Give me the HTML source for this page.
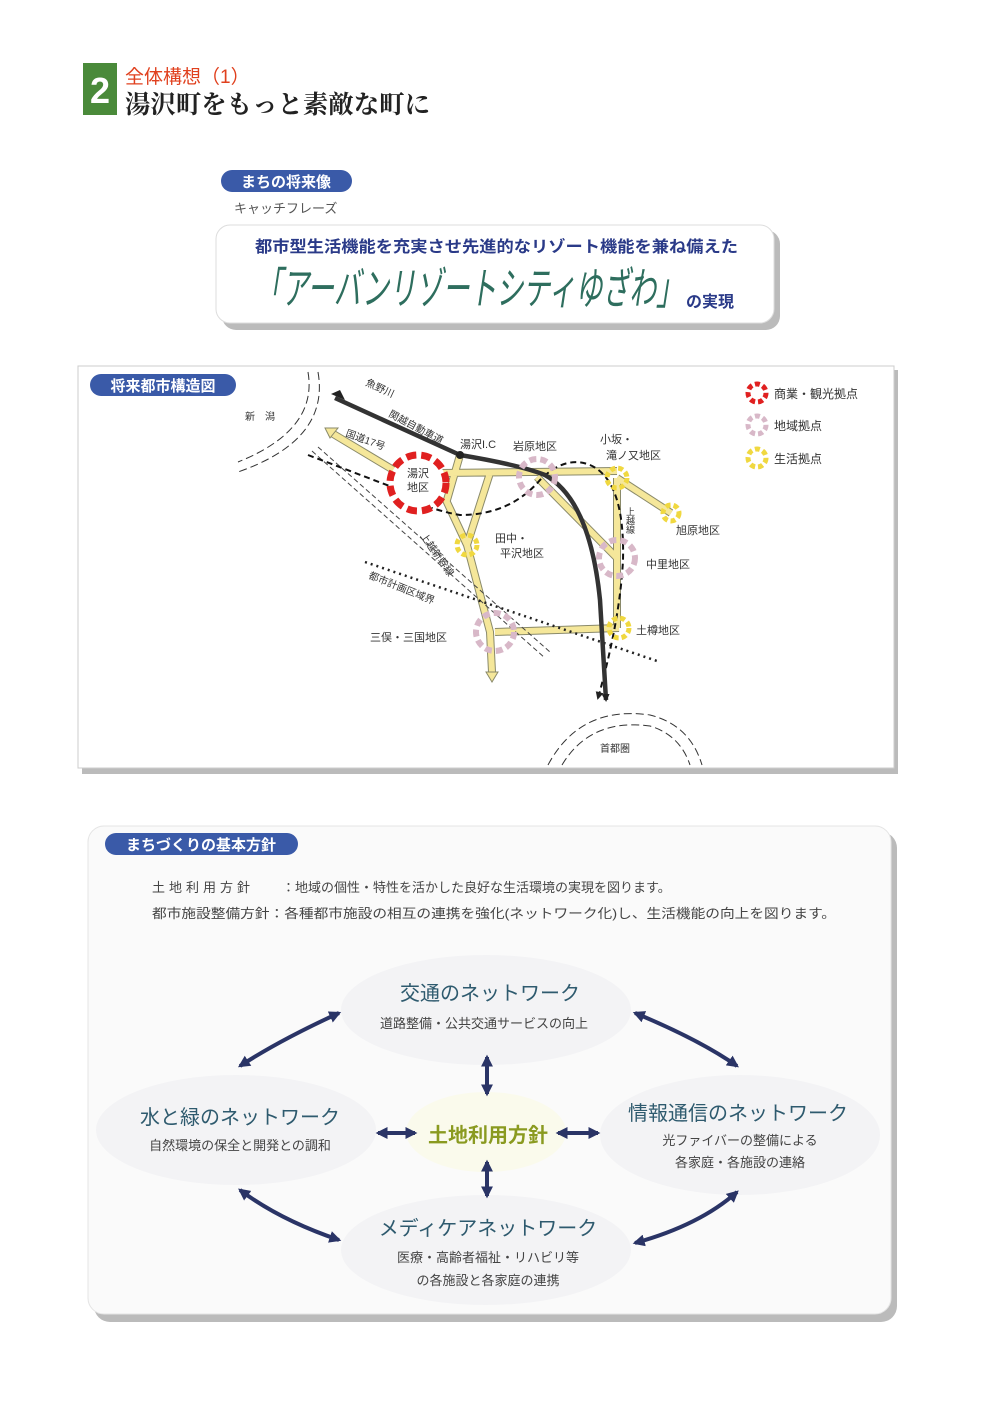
<!DOCTYPE html>
<html><head><meta charset="utf-8"><style>
html,body{margin:0;padding:0;background:#fff}
svg{display:block}
text{font-family:"Liberation Sans","Noto Sans CJK JP",sans-serif}
.serif{font-family:"Liberation Serif","Noto Serif CJK SC",serif}
</style></head><body>
<svg width="1000" height="1410" viewBox="0 0 1000 1410" xmlns="http://www.w3.org/2000/svg">
<defs>
<marker id="ab" markerWidth="8" markerHeight="8" refX="6" refY="4" orient="auto" markerUnits="userSpaceOnUse"><path d="M0,0 L8,4 L0,8 z" fill="#222"/></marker>
<marker id="an" viewBox="0 0 10 10" markerWidth="12" markerHeight="12" refX="8" refY="5" orient="auto-start-reverse" markerUnits="userSpaceOnUse"><path d="M0,0 L10,5 L0,10 z" fill="#2a3466"/></marker>
</defs>
<rect width="1000" height="1410" fill="#fff"/>
<!-- header -->
<rect x="83" y="63" width="34" height="52" fill="#4a8a3a"/>
<text x="100" y="103" font-size="36" font-weight="bold" fill="#fff" text-anchor="middle">2</text>
<text x="125" y="83" font-size="19" fill="#e0401e">全体構想（1）</text>
<text x="125" y="113" font-size="25" font-weight="bold" fill="#222" class="serif" textLength="305" lengthAdjust="spacingAndGlyphs">湯沢町をもっと素敵な町に</text>
<!-- future image -->
<rect x="221" y="170" width="131" height="22" rx="11" fill="#3a5aa8"/>
<text x="286" y="187" font-size="15" font-weight="bold" fill="#fff" text-anchor="middle">まちの将来像</text>
<text x="234" y="213" font-size="13" fill="#555">キャッチフレーズ</text>
<rect x="222" y="230" width="558" height="100" rx="14" fill="#bbb"/>
<rect x="216" y="225" width="558" height="98" rx="14" fill="#fff" stroke="#ddd"/>
<text x="255" y="252" font-size="16" font-weight="bold" fill="#2a3a88" textLength="483" lengthAdjust="spacingAndGlyphs">都市型生活機能を充実させ先進的なリゾート機能を兼ね備えた</text>
<text x="255" y="304" font-size="44" font-style="italic" fill="#2e6e5e" textLength="428" lengthAdjust="spacingAndGlyphs">「アーバンリゾートシティゆざわ」</text>
<text x="686" y="307" font-size="16" font-weight="bold" fill="#2a3a88">の実現</text>
<!-- map -->
<rect x="82" y="370" width="816" height="404" fill="#bbb"/>
<rect x="78" y="366" width="816" height="402" fill="#fff" stroke="#ccc"/>
<rect x="90" y="374" width="146" height="22" rx="11" fill="#3a5aa8"/>
<text x="163" y="391" font-size="15" font-weight="bold" fill="#fff" text-anchor="middle">将来都市構造図</text>
<g fill="none" stroke="#333" stroke-dasharray="8,4" stroke-width="1">
<path d="M318,372 Q330,440 238,472"/><path d="M308,372 Q318,430 238,462"/>
<path d="M548,765 Q580,705 650,715 Q690,725 702,765"/><path d="M562,765 Q590,718 650,726 Q680,735 690,765"/>
</g>
<text x="245" y="420" font-size="10" fill="#333">新　潟</text>
<text x="600" y="752" font-size="10" fill="#333">首都圏</text>
<text x="365" y="385" font-size="10" fill="#333" transform="rotate(25 365 385)">魚野川</text>
<text x="388" y="416" font-size="10" fill="#333" transform="rotate(28 388 416)">関越自動車道</text>
<text x="345" y="436" font-size="10" fill="#333" transform="rotate(20 345 436)">国道17号</text>
<text x="460" y="448" font-size="11" fill="#333">湯沢I.C</text>
<text x="420" y="536" font-size="10" fill="#333" transform="rotate(55 420 536)">上越新幹線</text>
<text x="368" y="578" font-size="10" fill="#333" transform="rotate(22 368 578)">都市計画区域界</text>
<text x="630" y="507" font-size="9" fill="#333" writing-mode="tb">上越線</text>
<!-- yellow roads -->
<g stroke="#8a8a6a" stroke-width="8" fill="none">
<path d="M330,432 L410,480 M440,473 L617,471 M460,455 L447,500 M490,473 L467,545 L490,632 L492,672 M495,632 L619,628 M537,477 L617,558 M617,478 L617,628 M617,478 L671,513 M445,498 L467,545"/>
</g>
<g stroke="#f5e79a" stroke-width="6" fill="none">
<path d="M330,432 L410,480 M440,473 L617,471 M460,455 L447,500 M490,473 L467,545 L490,632 L492,672 M495,632 L619,628 M537,477 L617,558 M617,478 L617,628 M617,478 L671,513 M445,498 L467,545" />
</g>
<path d="M486,672 L498,672 L492,682 z" fill="#f5e79a" stroke="#8a8a6a"/>
<path d="M325,428 L338,428 L330,438 z" fill="#f5e79a" stroke="#8a8a6a"/>
<g stroke="#444" stroke-width="1" stroke-dasharray="5,3" fill="none">
<path d="M312,451 L545,658"/><path d="M318,447 L550,652"/>
</g>
<path d="M365,562 L660,662" stroke="#222" stroke-width="2.5" stroke-dasharray="2,4" fill="none"/>
<path d="M308,455 L400,490 Q420,508 460,515 Q510,515 540,480 Q565,455 590,465 Q625,480 623,560 Q620,620 598,698" stroke="#111" stroke-width="2" stroke-dasharray="6,4" fill="none" marker-end="url(#ab)"/>
<path d="M335,398 L460,455 Q520,465 545,475 Q590,500 600,600 L606,700" stroke="#333" stroke-width="4.5" fill="none" marker-end="url(#ab)"/>
<path d="M345,400 L331,394 L340,390z" fill="#222"/>
<circle cx="460" cy="455" r="4" fill="#222"/>
<circle cx="418" cy="483" r="28" fill="#fff" stroke="#e02020" stroke-width="7" stroke-dasharray="10,5"/>
<text x="418" y="477" font-size="11" fill="#333" text-anchor="middle">湯沢</text>
<text x="418" y="491" font-size="11" fill="#333" text-anchor="middle">地区</text>
<g fill="none" stroke="#d8b8c8" stroke-width="6" stroke-dasharray="7,4">
<circle cx="537" cy="477" r="18"/><circle cx="617" cy="558" r="18"/><circle cx="495" cy="632" r="19"/>
</g>
<g fill="none" stroke="#f0d840" stroke-width="5" stroke-dasharray="5,3">
<circle cx="617" cy="478" r="10"/><circle cx="671" cy="513" r="8"/><circle cx="467" cy="545" r="10"/><circle cx="619" cy="628" r="10"/>
</g>
<g font-size="11" fill="#333">
<text x="513" y="450">岩原地区</text>
<text x="600" y="443">小坂・</text><text x="606" y="459">滝ノ又地区</text>
<text x="676" y="534">旭原地区</text>
<text x="495" y="542">田中・</text><text x="500" y="557">平沢地区</text>
<text x="646" y="568">中里地区</text>
<text x="636" y="634">土樽地区</text>
<text x="370" y="641">三俣・三国地区</text>
</g>
<circle cx="757" cy="393" r="9" fill="none" stroke="#e02020" stroke-width="5" stroke-dasharray="5,3"/>
<circle cx="757" cy="425" r="9" fill="none" stroke="#d8b8c8" stroke-width="5" stroke-dasharray="5,3"/>
<circle cx="757" cy="458" r="9" fill="none" stroke="#f0d840" stroke-width="5" stroke-dasharray="5,3"/>
<g font-size="12" fill="#333"><text x="774" y="398">商業・観光拠点</text><text x="774" y="430">地域拠点</text><text x="774" y="463">生活拠点</text></g>
<!-- basic policy -->
<rect x="94" y="832" width="803" height="490" rx="16" fill="#bbb"/>
<rect x="88" y="826" width="803" height="488" rx="16" fill="#fafafa" stroke="#e4e4e4"/>
<rect x="105" y="833" width="193" height="22" rx="11" fill="#3a5aa8"/>
<text x="201" y="850" font-size="15" font-weight="bold" fill="#fff" text-anchor="middle">まちづくりの基本方針</text>
<g font-size="13" fill="#444">
<text x="152" y="892" letter-spacing="4">土地利用方針</text><text x="282" y="892">：地域の個性・特性を活かした良好な生活環境の実現を図ります。</text>
<text x="152" y="918" textLength="684" lengthAdjust="spacingAndGlyphs">都市施設整備方針：各種都市施設の相互の連携を強化(ネットワーク化)し、生活機能の向上を図ります。</text>
</g>
<g fill="#f3f3f5">
<ellipse cx="486" cy="1010" rx="145" ry="55"/><ellipse cx="236" cy="1130" rx="140" ry="55"/>
<ellipse cx="740" cy="1135" rx="140" ry="60"/><ellipse cx="486" cy="1250" rx="145" ry="55"/>
</g>
<ellipse cx="486" cy="1132" rx="80" ry="40" fill="#fafaec"/>
<g fill="#2e5a6e" text-anchor="middle">
<text x="490" y="1000" font-size="20">交通のネットワーク</text>
<text x="484" y="1028" font-size="13" fill="#444">道路整備・公共交通サービスの向上</text>
<text x="240" y="1124" font-size="20">水と緑のネットワーク</text>
<text x="240" y="1150" font-size="13" fill="#444">自然環境の保全と開発との調和</text>
<text x="738" y="1120" font-size="20">情報通信のネットワーク</text>
<text x="740" y="1145" font-size="13" fill="#444">光ファイバーの整備による</text>
<text x="740" y="1167" font-size="13" fill="#444">各家庭・各施設の連絡</text>
<text x="488" y="1142" font-size="20" font-weight="bold" fill="#8a9a20">土地利用方針</text>
<text x="488" y="1235" font-size="20">メディケアネットワーク</text>
<text x="488" y="1262" font-size="13" fill="#444">医療・高齢者福祉・リハビリ等</text>
<text x="488" y="1285" font-size="13" fill="#444">の各施設と各家庭の連携</text>
</g>
<g stroke="#2a3466" stroke-width="4" fill="none" marker-start="url(#an)" marker-end="url(#an)">
<path d="M339,1013 Q280,1040 240,1066"/>
<path d="M635,1013 Q700,1040 737,1066"/>
<path d="M240,1190 Q280,1220 339,1240"/>
<path d="M737,1192 Q700,1225 635,1243"/>
<path d="M487,1057 L487,1094"/>
<path d="M487,1162 L487,1196"/>
<path d="M378,1133 L415,1133"/>
<path d="M558,1133 L598,1133"/>
</g>
</svg>
</body></html>
